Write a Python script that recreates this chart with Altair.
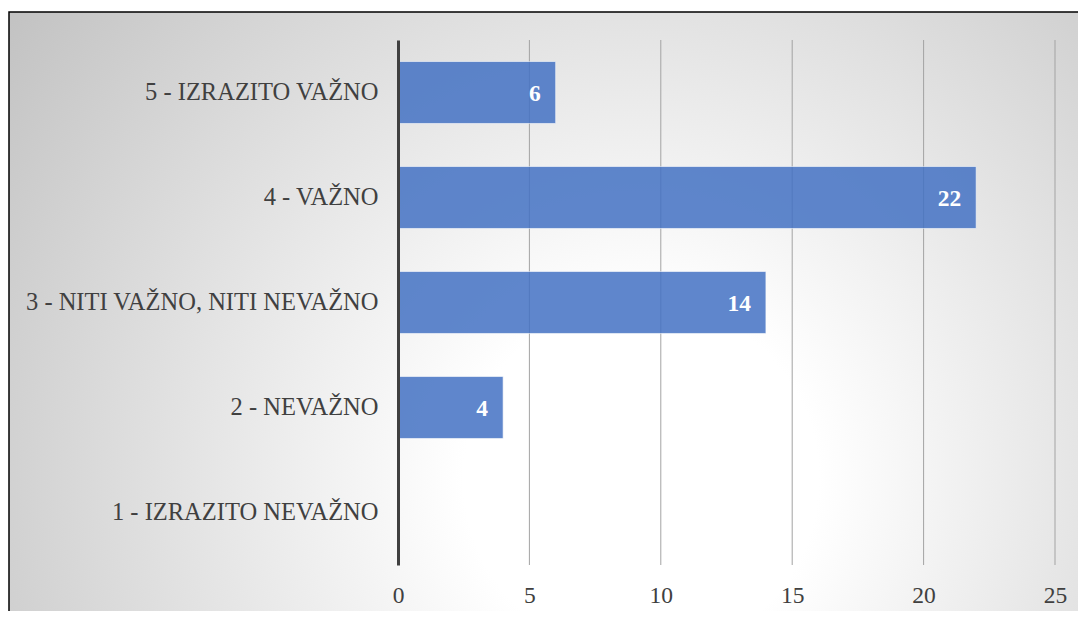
import altair as alt
import pandas as pd

categories = ["5 - IZRAZITO VAŽNO", "4 - VAŽNO", "3 - NITI VAŽNO, NITI NEVAŽNO",
              "2 - NEVAŽNO", "1 - IZRAZITO NEVAŽNO"]
values = [6, 22, 14, 4, 0]
x_ticks = [0, 5, 10, 15, 20, 25]
grid_values = [5, 10, 15, 20, 25]

df = pd.DataFrame({"cat": categories, "value": values})
grid_df = pd.DataFrame({"v": grid_values})
bg_df = pd.DataFrame({"k": [0]})

FONT = "'Liberation Serif', 'Times New Roman', 'DejaVu Serif', serif"
W, H = 657, 525

x_scale = alt.Scale(domain=[0, 25], nice=False, zero=True)
y_scale = alt.Scale(domain=categories, paddingInner=0.41, paddingOuter=0.205)

bg = alt.Chart(bg_df).mark_rect(
    stroke="#000000", strokeWidth=1.5,
    fill={"gradient": "radial", "x1": 0.57, "y1": 0.62, "r1": 0.0,
          "x2": 0.57, "y2": 0.62, "r2": 0.8,
          "stops": [{"offset": 0, "color": "#ffffff"},
                    {"offset": 0.2, "color": "#ffffff"},
                    {"offset": 1, "color": "#b8b8b8"}]}
).encode(
    x=alt.value(-389), x2=alt.value(720),
    y=alt.value(-28), y2=alt.value(640)
)

grid = alt.Chart(grid_df).mark_rule(color="#a3a3a3", strokeWidth=1).encode(
    x=alt.X("v:Q", scale=x_scale)
)

bars = alt.Chart(df).mark_bar(
    color="#4472C4", opacity=0.85, stroke="#ffffff", strokeWidth=1, strokeOpacity=0.6
).encode(
    x=alt.X("value:Q", scale=x_scale,
            axis=alt.Axis(values=x_ticks, domain=False, ticks=False, grid=False,
                          labelFont=FONT, labelFontSize=23.5, labelColor="#404040",
                          labelPadding=18, labelFlush=False, title=None, zindex=1)),
    y=alt.Y("cat:N", scale=y_scale, sort=categories,
            axis=alt.Axis(domain=True, domainColor="#404040", domainWidth=3,
                          ticks=False, grid=False, labelFont=FONT, labelFontSize=24.5,
                          labelColor="#404040", labelPadding=20, title=None,
                          labelLimit=400, zindex=1))
)

text = alt.Chart(df).transform_filter("datum.value > 0").mark_text(
    align="right", baseline="middle", dx=-15, dy=1, color="#ffffff",
    font=FONT, fontSize=23.5, fontWeight="bold"
).encode(
    x=alt.X("value:Q", scale=x_scale),
    y=alt.Y("cat:N", scale=y_scale, sort=categories),
    text=alt.Text("value:Q")
)

chart = alt.layer(bg, grid, bars, text).properties(
    width=W, height=H,
    autosize=alt.AutoSizeParams(type="none"),
    padding={"left": 390, "top": 32, "right": 23, "bottom": 46},
).configure_view(stroke=None)

chart.save("out.html", embed_options={"renderer": "svg", "actions": False})
